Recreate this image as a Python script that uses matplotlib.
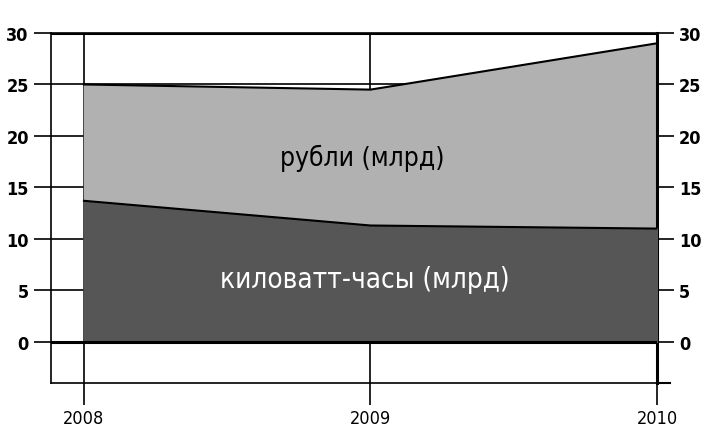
import numpy as np
import matplotlib.pyplot as plt

# Данные
years = [2008, 2009, 2010]
kwh = [13.7, 11.3, 11.0]      # киловатт-часы (млрд)
rub = [25.0, 24.5, 29.0]      # рубли (млрд)
yticks = [0, 5, 10, 15, 20, 25, 30]

plt.rcParams['font.family'] = ['DejaVu Sans']
plt.rcParams['font.stretch'] = 'condensed'

fig = plt.figure(figsize=(7.08, 4.31), dpi=100)
ax = fig.add_axes([51/708, 1-384/431, (657-51)/708, (384-34)/431])

ax.set_xlim(2007.885, 2010)
ax.set_ylim(-4, 30)

# сетка
for y in yticks:
    ax.axhline(y, color='black', lw=1.2, zorder=1)
for x in years:
    ax.axvline(x, color='black', lw=1.2, zorder=1)

# области
ax.fill_between(years, 0, rub, color='#b1b1b1', zorder=2)
ax.fill_between(years, 0, kwh, color='#565656', zorder=3)
ax.plot(years, rub, color='black', lw=1.5, zorder=5)
ax.plot(years, kwh, color='black', lw=1.5, zorder=5)
ax.axhline(0, color='black', lw=2.2, zorder=6)
ax.axhline(30, color='black', lw=2.2, zorder=6)

# подписи областей
ax.text(2008.97, 17.9, 'рубли (млрд)', fontsize=19, ha='center', va='center', zorder=7)
ax.text(2008.98, 6.1, 'киловатт-часы (млрд)', fontsize=20, ha='center', va='center',
        color='white', zorder=7)

for s in ['left', 'bottom', 'top']:
    ax.spines[s].set_linewidth(1.2)
ax.spines['right'].set_linewidth(2.2)

ax.set_yticks(yticks)
ax.set_yticklabels([str(v) for v in yticks], fontsize=13, fontweight='bold')
ax.tick_params(axis='y', length=12, width=1.2, pad=4, right=True, labelright=True)

ax.set_xticks(years)
ax.set_xticklabels([str(v) for v in years], fontsize=13)
ax.tick_params(axis='x', length=16, width=1.2, pad=3)

# нижняя засечка справа
ax.plot([2010, 2010.045], [-4, -4], color='black', lw=1.5, clip_on=False, zorder=6)

fig.savefig('out.png', dpi=100)
